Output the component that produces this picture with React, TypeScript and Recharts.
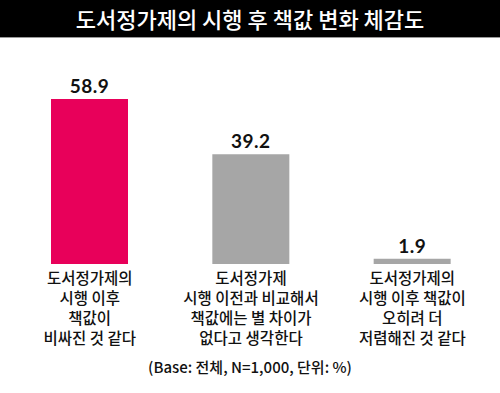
import React from 'react';
import { BarChart, Bar, XAxis, YAxis, Cell, LabelList } from 'recharts';

const categories = ['A', 'B', 'C'];
const categoryLines = [
  ['도서정가제의', '시행 이후', '책값이', '비싸진 것 같다'],
  ['도서정가제', '시행 이전과 비교해서', '책값에는 별 차이가', '없다고 생각한다'],
  ['도서정가제의', '시행 이후 책값이', '오히려 더', '저렴해진 것 같다'],
];
const values = [58.9, 39.2, 1.9];
const barColors = ['#E8005A', '#A6A6A6', '#A6A6A6'];
const title = '도서정가제의 시행 후 책값 변화 체감도';
const footnote = '(Base: 전체, N=1,000, 단위: %)';

const data = categories.map((c, i) => ({ name: c, value: values[i], idx: i }));

const KFONT = '"Noto Sans CJK KR", "Noto Sans", sans-serif';

const Tick = (props: any) => {
  const { x, y, payload } = props;
  const lines = categoryLines[payload.index] || [];
  return (
    <g>
      {lines.map((l, i) => (
        <text
          key={i}
          x={x}
          y={y + 12 + i * 20}
          textAnchor="middle"
          fontFamily={KFONT}
          fontWeight={500}
          fontSize={15.5}
          fill="#111"
        >
          {l}
        </text>
      ))}
    </g>
  );
};

export default function App() {
  return (
    <div style={{ position: 'absolute', left: 0, top: 0, width: 500, height: 393, background: '#fff' }}>
      <div
        style={{
          position: 'absolute',
          left: 0,
          top: 0,
          width: 500,
          height: 37,
          background: '#000',
          borderBottom: '1px solid #999',
          color: '#fff',
          fontFamily: KFONT,
          fontWeight: 500,
          fontSize: 22,
          lineHeight: '37px',
          textAlign: 'center',
        }}
      >
        {title}
      </div>
      <div style={{ position: 'absolute', left: 0, top: 0 }}>
        <BarChart width={500} height={393} data={data} margin={{ top: 68, right: 7, bottom: 0, left: 9 }} barSize={77}>
          <YAxis hide domain={[0, 70]} />
          <XAxis
            dataKey="name"
            axisLine={false}
            tickLine={false}
            height={129}
            interval={0}
            tick={<Tick />}
          />
          <Bar dataKey="value" isAnimationActive={false}>
            {data.map((d, i) => (
              <Cell key={i} fill={barColors[i]} />
            ))}
            <LabelList
              dataKey="value"
              position="top"
              offset={6}
              formatter={(v: any) => Number(v).toFixed(1)}
              style={{ fontFamily: 'Lato, sans-serif', fontWeight: 700, fontSize: 19, fill: '#111', letterSpacing: 0.5 }}
            />
          </Bar>
        </BarChart>
      </div>
      <div
        style={{
          position: 'absolute',
          left: 0,
          top: 357,
          width: 500,
          textAlign: 'center',
          fontFamily: KFONT,
          fontSize: 15,
          fontWeight: 500,
          color: '#111',
          lineHeight: '20px',
        }}
      >
        {footnote}
      </div>
    </div>
  );
}
